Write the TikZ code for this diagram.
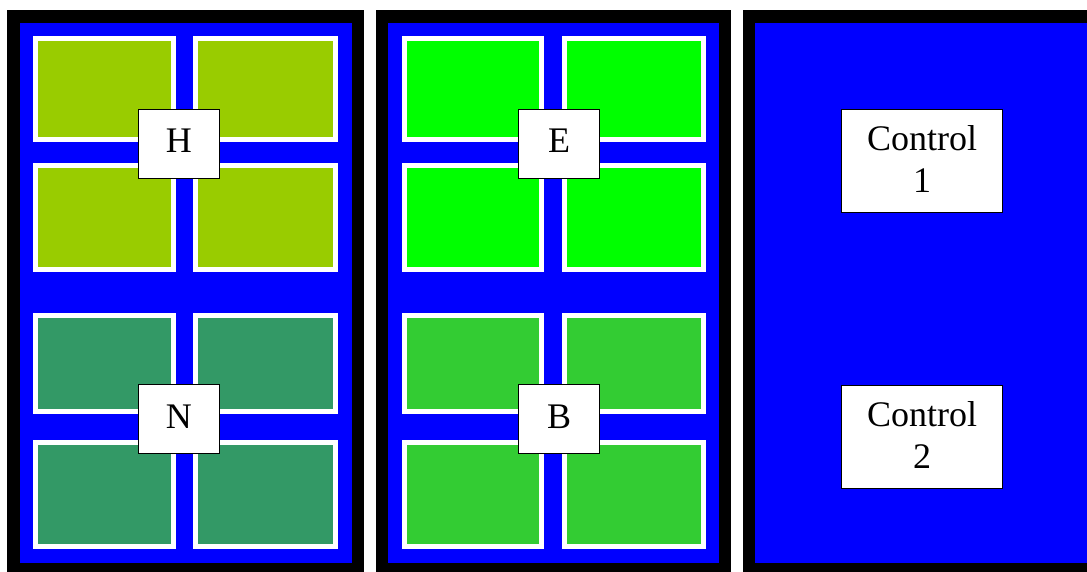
\documentclass[tikz,border=0pt]{standalone}
\usepackage{fontspec}
\setmainfont{Liberation Serif}
\definecolor{pblue}{HTML}{0000FF}
\definecolor{olivegr}{HTML}{99CC00}
\definecolor{brightgr}{HTML}{00FF00}
\definecolor{seagr}{HTML}{339966}
\definecolor{midgr}{HTML}{33CC33}
\tikzset{
  panel/.style={draw=black, fill=pblue, line width=12.5pt},
  tile/.style={draw=white, line width=5pt},
  label box/.style={draw=black, fill=white, line width=1pt, inner sep=0pt,
    font=\fontsize{36}{42}\selectfont, align=center},
  small box/.style={label box, minimum width=81pt, minimum height=69pt, text depth=5pt},
  big box/.style={label box, minimum width=161pt, minimum height=103pt, text depth=3pt},
}
\begin{document}
\begin{tikzpicture}[x=1pt,y=-1pt]
\useasboundingbox (0,0) rectangle (1087,571);
\clip (0,0) rectangle (1087,571);
\fill[white] (0,0) rectangle (1087,571);
% panels
\draw[panel] (13.25,16.5) rectangle (357.75,569);
\draw[panel] (381.95,16.5) rectangle (724.75,569);
\draw[panel] (748.95,16.5) rectangle (1110,569);
% tiles
\foreach \dx/\ctop/\cbot in {0/olivegr/seagr, 368.7/brightgr/midgr}{
  \foreach \xa/\xb in {35.8/173.2, 195.5/335.2}{
    \draw[tile, fill=\ctop] (\xa+\dx,38.5) rectangle (\xb+\dx,139.2);
    \draw[tile, fill=\ctop] (\xa+\dx,165.5) rectangle (\xb+\dx,269.2);
    \draw[tile, fill=\cbot] (\xa+\dx,315.8) rectangle (\xb+\dx,411.5);
    \draw[tile, fill=\cbot] (\xa+\dx,442) rectangle (\xb+\dx,546.8);
  }
}
% labels
\node[small box] (H) at (178.8,143.7) {H};
\node[small box] (N) at (178.8,419) {N};
\node[small box] (E) at (559,143.7) {E};
\node[small box] (B) at (559,419) {B};
\node[big box] (c1) at (922.2,161) {Control\\1};
\node[big box] (c2) at (922.2,436.5) {Control\\2};
\end{tikzpicture}
\end{document}
